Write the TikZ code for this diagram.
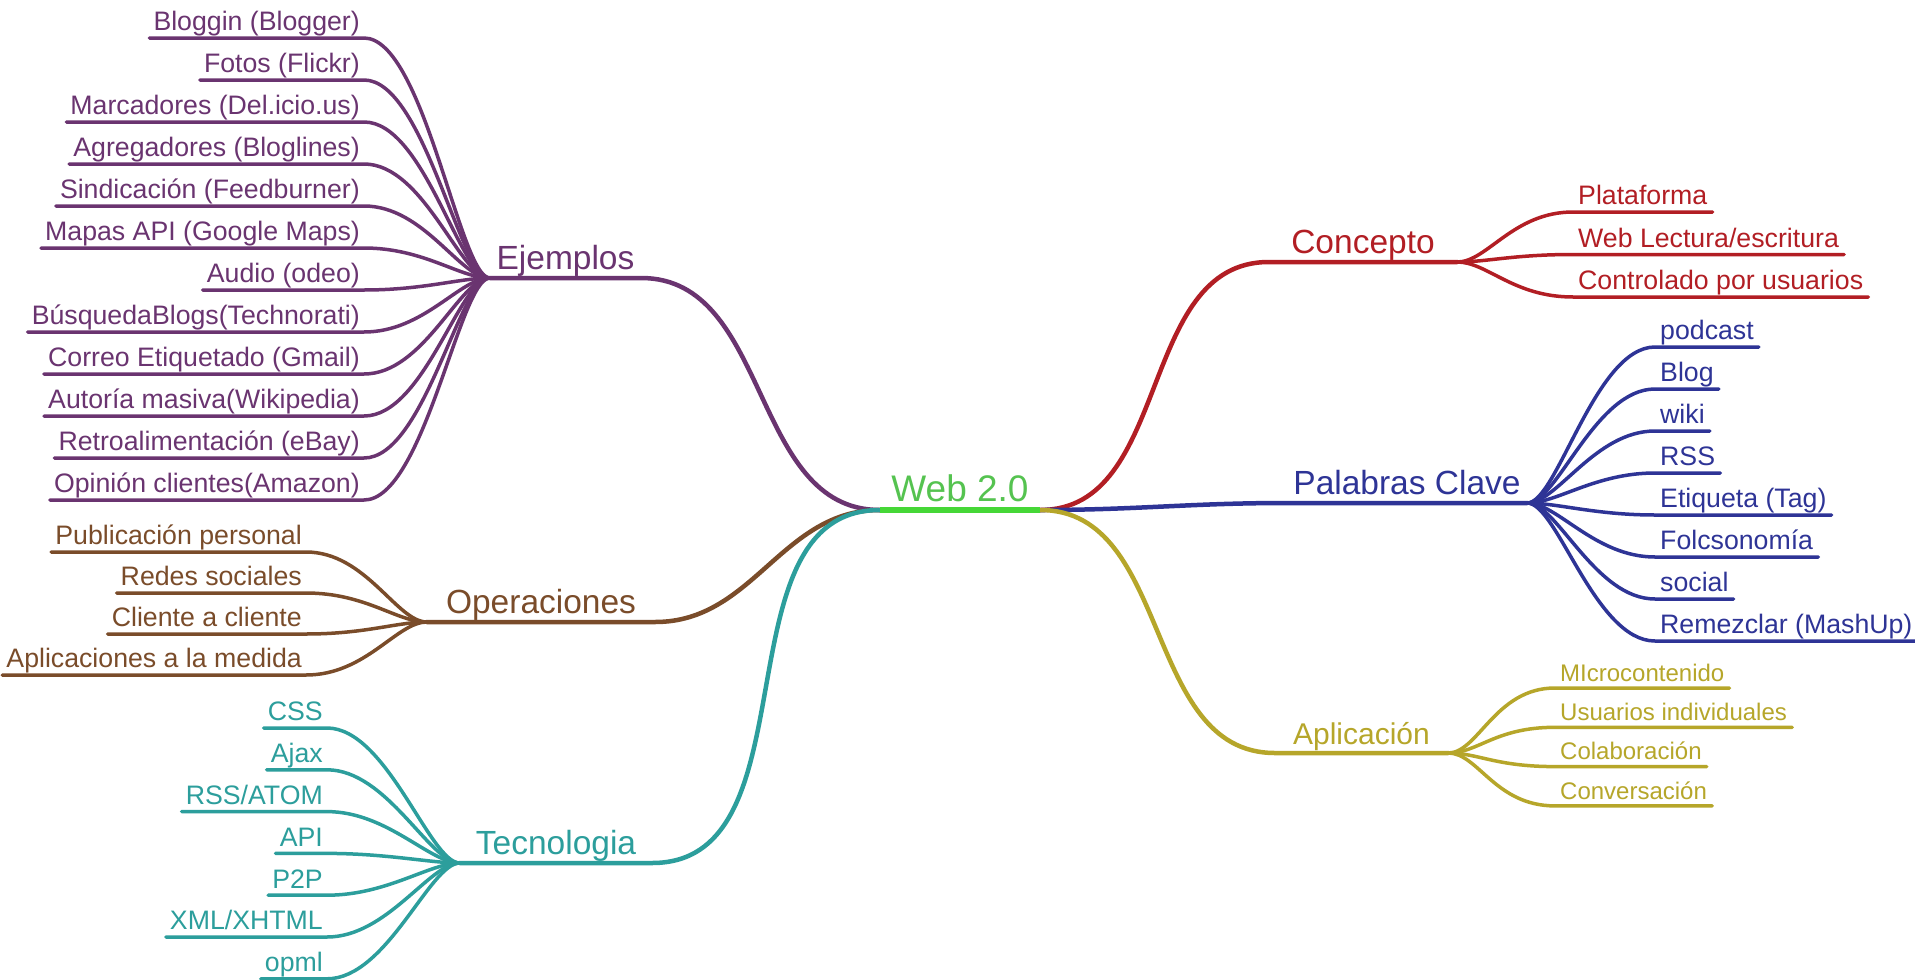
\documentclass[tikz,border=0pt]{standalone}
\usepackage{fontspec}
\setmainfont{Liberation Sans}
\usetikzlibrary{positioning}

\definecolor{webcol}{RGB}{70,215,55}
\definecolor{webtxt}{RGB}{85,195,80}
\definecolor{ejcol}{RGB}{106,52,112}
\definecolor{opcol}{RGB}{122,76,42}
\definecolor{tecol}{RGB}{44,158,156}
\definecolor{cocol}{RGB}{178,30,36}
\definecolor{pacol}{RGB}{46,52,150}
\definecolor{apcol}{RGB}{182,166,42}

\tikzset{
    root/.style={anchor=south, minimum width=160pt, inner xsep=0pt, inner ysep=0pt,
        text depth=8pt, text=webtxt, font=\fontsize{37}{42}\selectfont},
    cat/.style={anchor=south, inner xsep=0pt, inner ysep=1pt, text depth=7.5pt,
        font=\fontsize{33.5}{38}\selectfont},
    leafL/.style={anchor=south east, inner xsep=4pt, inner ysep=1pt, text depth=6pt,
        font=\fontsize{26.7}{31}\selectfont},
    leafR/.style={anchor=south west, inner xsep=5pt, inner ysep=1pt, text depth=6pt,
        font=\fontsize{26.7}{31}\selectfont},
    branch/.style={line width=4.5pt, line cap=round},
    twig/.style={line width=3.5pt, line cap=round},
    fanL/.style={out=180, in=0, out distance=30pt, in distance=60pt},
    fanR/.style={out=0, in=180, out distance=30pt, in distance=60pt}
}

\begin{document}
\begin{tikzpicture}[x=1pt, y=-1pt]

    % Background
    \fill[white] (0,0) rectangle (1915,980);
    \useasboundingbox (0,0) rectangle (1915,980);

    % Nodes
    \node (web) [root] at (960,510) {Web 2.0};

    \node (ejemplos) [cat, text=ejcol, minimum width=151pt] at (565.5,278) {Ejemplos};
    \node (operaciones) [cat, text=opcol, minimum width=228pt] at (541,622) {Operaciones};
    \node (tecnologia) [cat, text=tecol, minimum width=192pt] at (556,863) {Tecnologia};
    \node (concepto) [cat, text=cocol, minimum width=188pt] at (1363,262) {Concepto};
    \node (palabras) [cat, text=pacol, minimum width=240pt] at (1407,503) {Palabras Clave};
    \node (aplicacion) [cat, text=apcol, minimum width=173pt,
        font=\fontsize{30}{34}\selectfont] at (1361.5,753) {Aplicación};

    % Ejemplos
    \node (bloggin) [leafL, text=ejcol] at (364,38) {Bloggin (Blogger)};
    \node (fotos) [below=42pt of bloggin.south east, leafL, text=ejcol] {Fotos (Flickr)};
    \node (marcadores) [below=42pt of fotos.south east, leafL, text=ejcol] {Marcadores (Del.icio.us)};
    \node (agregadores) [below=42pt of marcadores.south east, leafL, text=ejcol] {Agregadores (Bloglines)};
    \node (sindicacion) [below=42pt of agregadores.south east, leafL, text=ejcol] {Sindicación (Feedburner)};
    \node (mapas) [below=42pt of sindicacion.south east, leafL, text=ejcol] {Mapas API (Google Maps)};
    \node (audio) [below=42pt of mapas.south east, leafL, text=ejcol] {Audio (odeo)};
    \node (busqueda) [below=42pt of audio.south east, leafL, text=ejcol] {BúsquedaBlogs(Technorati)};
    \node (correo) [below=42pt of busqueda.south east, leafL, text=ejcol] {Correo Etiquetado (Gmail)};
    \node (autoria) [below=42pt of correo.south east, leafL, text=ejcol] {Autoría masiva(Wikipedia)};
    \node (retro) [below=42pt of autoria.south east, leafL, text=ejcol] {Retroalimentación (eBay)};
    \node (opinion) [below=42pt of retro.south east, leafL, text=ejcol] {Opinión clientes(Amazon)};

    % Operaciones
    \node (publicacion) [leafL, text=opcol] at (306,552) {Publicación personal};
    \node (redes) [below=41pt of publicacion.south east, leafL, text=opcol] {Redes sociales};
    \node (cliente) [below=41pt of redes.south east, leafL, text=opcol] {Cliente a cliente};
    \node (aplicaciones) [below=41pt of cliente.south east, leafL, text=opcol] {Aplicaciones a la medida};

    % Tecnologia
    \node (css) [leafL, text=tecol] at (327,728) {CSS};
    \node (ajax) [below=41.8pt of css.south east, leafL, text=tecol] {Ajax};
    \node (rssatom) [below=41.8pt of ajax.south east, leafL, text=tecol] {RSS/ATOM};
    \node (api) [below=41.8pt of rssatom.south east, leafL, text=tecol] {API};
    \node (ptp) [below=41.8pt of api.south east, leafL, text=tecol] {P2P};
    \node (xml) [below=41.8pt of ptp.south east, leafL, text=tecol] {XML/XHTML};
    \node (opml) [below=41.8pt of xml.south east, leafL, text=tecol] {opml};

    % Concepto
    \node (plataforma) [leafR, text=cocol] at (1573,212) {Plataforma};
    \node (lectura) [below=42.5pt of plataforma.south west, leafR, text=cocol] {Web Lectura/escritura};
    \node (controlado) [below=42.5pt of lectura.south west, leafR, text=cocol] {Controlado por usuarios};

    % Palabras Clave
    \node (podcast) [leafR, text=pacol] at (1655,347) {podcast};
    \node (blog) [below=42pt of podcast.south west, leafR, text=pacol] {Blog};
    \node (wiki) [below=42pt of blog.south west, leafR, text=pacol] {wiki};
    \node (rss) [below=42pt of wiki.south west, leafR, text=pacol] {RSS};
    \node (etiqueta) [below=42pt of rss.south west, leafR, text=pacol] {Etiqueta (Tag)};
    \node (folcso) [below=42pt of etiqueta.south west, leafR, text=pacol] {Folcsonomía};
    \node (social) [below=42pt of folcso.south west, leafR, text=pacol] {social};
    \node (remezclar) [below=42pt of social.south west, leafR, text=pacol] {Remezclar (MashUp)};

    % Aplicacion
    \node (micro) [leafR, text=apcol, text depth=5.5pt, font=\fontsize{24}{28}\selectfont]
        at (1555,688) {MIcrocontenido};
    \node (usuarios) [below=39.3pt of micro.south west, leafR, text=apcol, text depth=5.5pt,
        font=\fontsize{24}{28}\selectfont] {Usuarios individuales};
    \node (colabora) [below=39.3pt of usuarios.south west, leafR, text=apcol, text depth=5.5pt,
        font=\fontsize{24}{28}\selectfont] {Colaboración};
    \node (conversa) [below=39.3pt of colabora.south west, leafR, text=apcol, text depth=5.5pt,
        font=\fontsize{24}{28}\selectfont] {Conversación};

    % Branches
    \draw[branch, ejcol] (web.south west) to[out=180, in=0] (ejemplos.south east) -- (ejemplos.south west);
    \draw[branch, opcol] (web.south west) to[out=180, in=0] (operaciones.south east) -- (operaciones.south west);
    \draw[branch, tecol] (web.south west) to[out=180, in=0] (tecnologia.south east) -- (tecnologia.south west);
    \draw[branch, cocol] (web.south east) to[out=0, in=180] (concepto.south west) -- (concepto.south east);
    \draw[branch, pacol] (web.south east) to[out=0, in=180] (palabras.south west) -- (palabras.south east);
    \draw[branch, apcol] (web.south east) to[out=0, in=180] (aplicacion.south west) -- (aplicacion.south east);
    \draw[webcol, line width=6pt] (web.south west) -- (web.south east);

    % Twigs
    \draw[twig, ejcol] (ejemplos.south west) to[fanL] (bloggin.south east) -- (bloggin.south west);
    \draw[twig, ejcol] (ejemplos.south west) to[fanL] (fotos.south east) -- (fotos.south west);
    \draw[twig, ejcol] (ejemplos.south west) to[fanL] (marcadores.south east) -- (marcadores.south west);
    \draw[twig, ejcol] (ejemplos.south west) to[fanL] (agregadores.south east) -- (agregadores.south west);
    \draw[twig, ejcol] (ejemplos.south west) to[fanL] (sindicacion.south east) -- (sindicacion.south west);
    \draw[twig, ejcol] (ejemplos.south west) to[fanL] (mapas.south east) -- (mapas.south west);
    \draw[twig, ejcol] (ejemplos.south west) to[fanL] (audio.south east) -- (audio.south west);
    \draw[twig, ejcol] (ejemplos.south west) to[fanL] (busqueda.south east) -- (busqueda.south west);
    \draw[twig, ejcol] (ejemplos.south west) to[fanL] (correo.south east) -- (correo.south west);
    \draw[twig, ejcol] (ejemplos.south west) to[fanL] (autoria.south east) -- (autoria.south west);
    \draw[twig, ejcol] (ejemplos.south west) to[fanL] (retro.south east) -- (retro.south west);
    \draw[twig, ejcol] (ejemplos.south west) to[fanL] (opinion.south east) -- (opinion.south west);

    \draw[twig, opcol] (operaciones.south west) to[fanL] (publicacion.south east) -- (publicacion.south west);
    \draw[twig, opcol] (operaciones.south west) to[fanL] (redes.south east) -- (redes.south west);
    \draw[twig, opcol] (operaciones.south west) to[fanL] (cliente.south east) -- (cliente.south west);
    \draw[twig, opcol] (operaciones.south west) to[fanL] (aplicaciones.south east) -- (aplicaciones.south west);

    \draw[twig, tecol] (tecnologia.south west) to[fanL] (css.south east) -- (css.south west);
    \draw[twig, tecol] (tecnologia.south west) to[fanL] (ajax.south east) -- (ajax.south west);
    \draw[twig, tecol] (tecnologia.south west) to[fanL] (rssatom.south east) -- (rssatom.south west);
    \draw[twig, tecol] (tecnologia.south west) to[fanL] (api.south east) -- (api.south west);
    \draw[twig, tecol] (tecnologia.south west) to[fanL] (ptp.south east) -- (ptp.south west);
    \draw[twig, tecol] (tecnologia.south west) to[fanL] (xml.south east) -- (xml.south west);
    \draw[twig, tecol] (tecnologia.south west) to[fanL] (opml.south east) -- (opml.south west);

    \draw[twig, cocol] (concepto.south east) to[fanR] (plataforma.south west) -- (plataforma.south east);
    \draw[twig, cocol] (concepto.south east) to[fanR] (lectura.south west) -- (lectura.south east);
    \draw[twig, cocol] (concepto.south east) to[fanR] (controlado.south west) -- (controlado.south east);

    \draw[twig, pacol] (palabras.south east) to[fanR] (podcast.south west) -- (podcast.south east);
    \draw[twig, pacol] (palabras.south east) to[fanR] (blog.south west) -- (blog.south east);
    \draw[twig, pacol] (palabras.south east) to[fanR] (wiki.south west) -- (wiki.south east);
    \draw[twig, pacol] (palabras.south east) to[fanR] (rss.south west) -- (rss.south east);
    \draw[twig, pacol] (palabras.south east) to[fanR] (etiqueta.south west) -- (etiqueta.south east);
    \draw[twig, pacol] (palabras.south east) to[fanR] (folcso.south west) -- (folcso.south east);
    \draw[twig, pacol] (palabras.south east) to[fanR] (social.south west) -- (social.south east);
    \draw[twig, pacol] (palabras.south east) to[fanR] (remezclar.south west) -- (remezclar.south east);

    \draw[twig, apcol] (aplicacion.south east) to[fanR] (micro.south west) -- (micro.south east);
    \draw[twig, apcol] (aplicacion.south east) to[fanR] (usuarios.south west) -- (usuarios.south east);
    \draw[twig, apcol] (aplicacion.south east) to[fanR] (colabora.south west) -- (colabora.south east);
    \draw[twig, apcol] (aplicacion.south east) to[fanR] (conversa.south west) -- (conversa.south east);

\end{tikzpicture}
\end{document}
